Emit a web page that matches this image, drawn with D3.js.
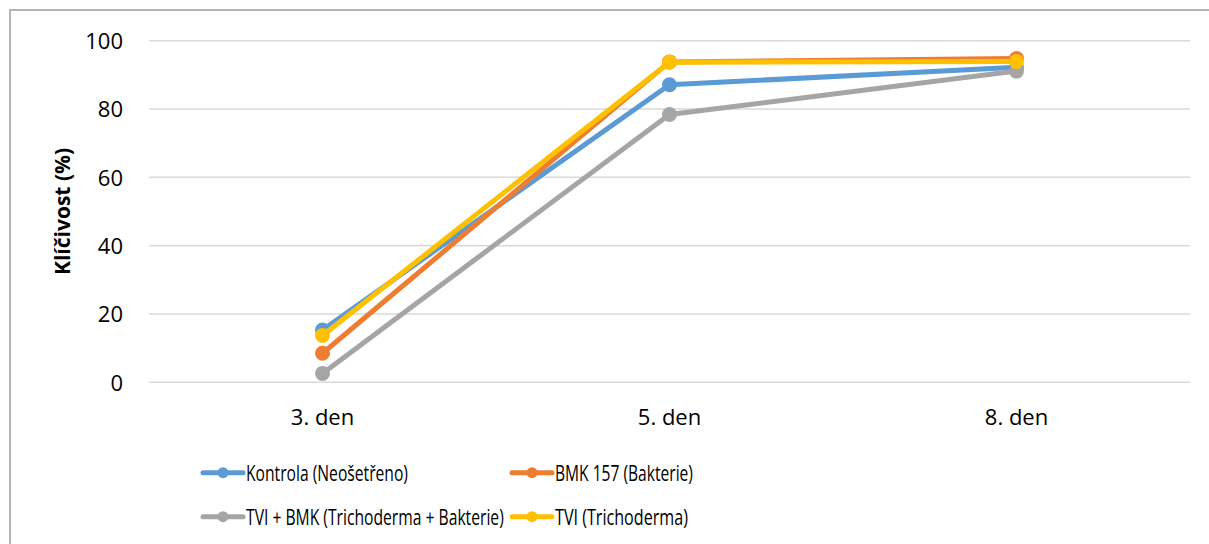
<!DOCTYPE html>
<html>
<head>
<meta charset="utf-8">
<script src="https://cdn.jsdelivr.net/npm/d3@7"></script>
<style>
  html, body { margin: 0; padding: 0; background: #fff; }
  svg { display: block; }
  text { font-family: "Open Sans", "DejaVu Sans", sans-serif; fill: #000; }
</style>
</head>
<body>
<svg id="chart" width="1209" height="544"></svg>
<script>
const categories = ["3. den", "5. den", "8. den"];
const seriesNames = ["Kontrola (Neošetřeno)", "BMK 157 (Bakterie)", "TVI + BMK (Trichoderma + Bakterie)", "TVI (Trichoderma)"];
const kontrola = [15.3, 87.1, 92.2];
const bmk157 = [8.5, 93.8, 94.8];
const tviBmk = [2.6, 78.4, 91.1];
const tvi = [13.7, 93.7, 93.9];
const yTicks = [0, 20, 40, 60, 80, 100];
const yTitle = "Klíčivost (%)";

const colors = ["#5B9BD5", "#ED7D31", "#A5A5A5", "#FFC000"];
const seriesValues = [kontrola, bmk157, tviBmk, tvi];

const svg = d3.select("#chart");
const W = 1209, H = 544;
const plot = { left: 149, right: 1190, top: 40.7, bottom: 382.3 };

// chart frame (only left and top edges visible in the crop)
svg.append("line").attr("x1", 10).attr("y1", 10).attr("x2", 10).attr("y2", H)
  .attr("stroke", "#b4b4b4").attr("stroke-width", 2);
svg.append("line").attr("x1", 9).attr("y1", 10).attr("x2", W).attr("y2", 10)
  .attr("stroke", "#b4b4b4").attr("stroke-width", 2);

const x = d3.scaleBand().domain(categories).range([plot.left, plot.right]);
const y = d3.scaleLinear().domain([0, 100]).range([plot.bottom, plot.top]);

// gridlines
svg.append("g").selectAll("line").data(yTicks).join("line")
  .attr("x1", plot.left).attr("x2", plot.right)
  .attr("y1", d => y(d)).attr("y2", d => y(d))
  .attr("stroke", "#d9d9d9").attr("stroke-width", 1.5);

// y axis tick labels
const yAxis = d3.axisLeft(y).tickValues(yTicks).tickSize(0).tickPadding(0);
const gy = svg.append("g").attr("transform", `translate(${plot.left - 26},0)`).call(yAxis);
gy.select(".domain").remove();
gy.selectAll("text").style("font-size", "22px").attr("fill", "#000")
  .style("font-family", '"Open Sans", sans-serif').attr("dy", "0.35em");

// x axis labels
const xAxis = d3.axisBottom(x).tickSize(0).tickPadding(0);
const gx = svg.append("g").attr("transform", `translate(0,${plot.bottom + 27})`).call(xAxis);
gx.select(".domain").remove();
gx.selectAll("text").style("font-size", "22px").attr("fill", "#000")
  .style("font-family", '"Open Sans", sans-serif').attr("dy", "0.71em");

// y title
svg.append("text")
  .attr("transform", `translate(70,${(plot.top + plot.bottom) / 2}) rotate(-90)`)
  .attr("text-anchor", "middle")
  .style("font-size", "21px").style("font-weight", "bold")
  .text(yTitle);

// series
const line = d3.line().x((d, i) => x(categories[i]) + x.bandwidth() / 2).y(d => y(d));
seriesValues.forEach((vals, si) => {
  const g = svg.append("g");
  g.append("path").datum(vals).attr("d", line)
    .attr("fill", "none").attr("stroke", colors[si]).attr("stroke-width", 5)
    .attr("stroke-linejoin", "round").attr("stroke-linecap", "round");
  g.selectAll("circle").data(vals).join("circle")
    .attr("cx", (d, i) => x(categories[i]) + x.bandwidth() / 2)
    .attr("cy", d => y(d)).attr("r", 7.5).attr("fill", colors[si]);
});

// legend
const legendItems = [
  { name: seriesNames[0], color: colors[0], x: 203, y: 472.7, w: 162 },
  { name: seriesNames[1], color: colors[1], x: 512, y: 472.7, w: 138 },
  { name: seriesNames[2], color: colors[2], x: 203, y: 516.7, w: 258 },
  { name: seriesNames[3], color: colors[3], x: 512, y: 516.7, w: 133 }
];
const lg = svg.append("g").selectAll("g").data(legendItems).join("g")
  .attr("transform", d => `translate(${d.x},${d.y})`);
lg.append("line").attr("x1", 0).attr("x2", 40).attr("y1", 0).attr("y2", 0)
  .attr("stroke", d => d.color).attr("stroke-width", 5).attr("stroke-linecap", "round");
lg.append("circle").attr("cx", 20).attr("cy", 0).attr("r", 5.5).attr("fill", d => d.color);
lg.append("g").attr("transform", "translate(43,8)")
  .append("text")
  .style("font-size", "21px")
  .text(d => d.name)
  .each(function(d) {
    const natural = this.getComputedTextLength();
    const sx = natural > 0 ? d.w / natural : 1;
    d3.select(this).attr("transform", `scale(${sx},1)`);
  });
</script>
</body>
</html>
